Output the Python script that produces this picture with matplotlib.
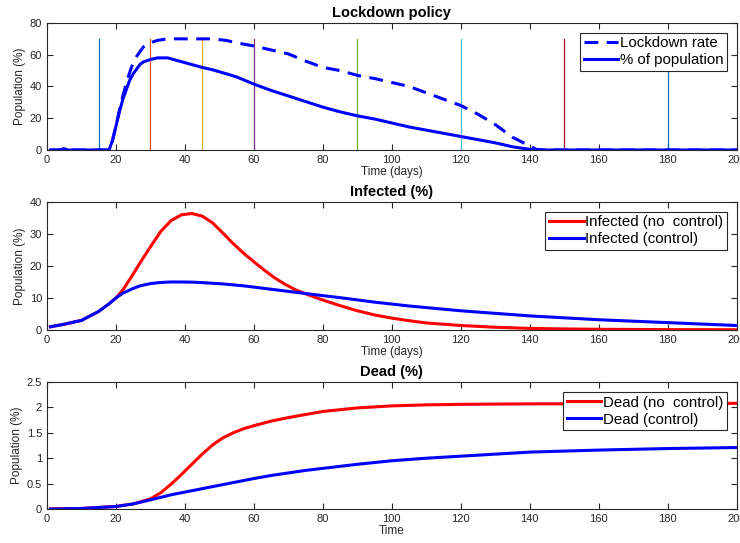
import matplotlib.pyplot as plt

plt.rcParams['font.family'] = ['Liberation Sans', 'DejaVu Sans']

# lockdown policy (top panel)
days_lock = [1, 4, 5, 6, 10, 15, 18, 19, 20, 21, 22, 23, 24, 25, 26, 27, 28, 30, 32, 35, 40, 45, 48,
             52, 55, 60, 65, 70, 75, 80, 85, 90, 95, 100, 105, 110, 115, 120, 125, 130, 135,
             140, 142, 145, 150, 160, 170, 180, 190, 200]
lock_rate = [0, 0, 0.8, 0, 0, 0, 0, 6, 15, 25, 34, 42, 49, 55, 59, 62, 65, 67.5, 69, 70, 70, 70, 70,
             69, 67.5, 65.5, 63, 60.5, 56, 52, 50, 47, 45, 42.5, 40, 36, 32, 28, 22.5, 16, 8,
             2.5, 0.3, 0, 0, 0, 0, 0, 0, 0]
lock_pop = [0, 0, 0.8, 0, 0, 0, 0, 6, 15, 24, 32, 38, 44, 48, 51, 54, 55.5, 57, 58, 58, 55, 52, 50.5,
            48, 46, 41.5, 37.5, 34, 30.5, 27, 24, 21.5, 19.5, 17, 14.5, 12.5, 10.5, 8.5, 6.5, 4.5, 2,
            0.4, 0, 0, 0, 0, 0, 0, 0, 0]
change_days = [15, 30, 45, 60, 90, 120, 150, 180]
change_colors = ['#0072BD', '#D95319', '#EDB120', '#7E2F8E', '#77AC30', '#4DBEEE', '#A2142F', '#0072BD']

# infected (middle panel)
days_inf = [1, 5, 10, 15, 18, 20, 22, 25, 27, 30, 33, 36, 39, 42, 45, 48, 51, 54, 57, 60, 63, 66,
            69, 72, 75, 78, 81, 85, 90, 95, 100, 105, 110, 120, 130, 140, 150, 160, 180, 200]
inf_nc = [1, 1.8, 3, 5.8, 8.2, 10, 12.5, 17.5, 21, 26, 30.8, 34.2, 36, 36.4, 35.6, 33.5, 30.3, 27, 24,
          21.3, 18.7, 16.3, 14.3, 12.6, 11.3, 10.1, 9, 7.6, 6, 4.7, 3.7, 2.9, 2.2, 1.4, 0.85, 0.5,
          0.32, 0.22, 0.12, 0.08]
inf_c = [1, 1.8, 3, 5.8, 8.2, 10, 11.5, 13, 13.8, 14.5, 14.85, 15, 15, 14.95, 14.8, 14.6, 14.4, 14.1,
         13.8, 13.4, 13, 12.6, 12.2, 11.8, 11.4, 11, 10.6, 10.1, 9.4, 8.7, 8.1, 7.5, 7, 6, 5.2, 4.4,
         3.8, 3.2, 2.3, 1.4]

# dead (bottom panel)
days_dead = [1, 10, 20, 25, 30, 33, 36, 39, 42, 45, 48, 51, 54, 57, 60, 65, 70, 75, 80, 90, 100,
             110, 120, 140, 160, 180, 200]
dead_nc = [0, 0.01, 0.05, 0.1, 0.2, 0.32, 0.49, 0.68, 0.88, 1.08, 1.26, 1.4, 1.5, 1.58, 1.64, 1.73,
           1.8, 1.86, 1.92, 1.99, 2.03, 2.05, 2.06, 2.07, 2.07, 2.08, 2.08]
dead_c = [0, 0.01, 0.05, 0.1, 0.18, 0.23, 0.28, 0.32, 0.36, 0.4, 0.44, 0.48, 0.52, 0.56, 0.6, 0.66,
          0.71, 0.76, 0.8, 0.88, 0.95, 1.0, 1.04, 1.12, 1.16, 1.19, 1.21]

fig = plt.figure(figsize=(7.4, 5.43), dpi=100)
ax1 = fig.add_axes([0.0635, 0.7238, 0.932, 0.2339])
ax2 = fig.add_axes([0.0635, 0.3923, 0.932, 0.2357])
ax3 = fig.add_axes([0.0635, 0.0626, 0.932, 0.2339])

for d, c in zip(change_days, change_colors):
    ax1.plot([d, d], [0, 70], color=c, lw=0.9)
ax1.plot(days_lock, lock_rate, '--', color='blue', lw=2.2, dashes=(4.5, 2.8), label='Lockdown rate')
ax1.plot(days_lock, lock_pop, '-', color='blue', lw=2.2, label='% of population')
ax1.set_ylim(0, 80)
ax1.set_yticks([0, 20, 40, 60, 80])
ax1.set_title('Lockdown policy', fontweight='bold', fontsize=10.5, pad=4)
ax1.set_xlabel('Time (days)', labelpad=1)

ax2.plot(days_inf, inf_nc, color='red', lw=2.2, label='Infected (no  control)')
ax2.plot(days_inf, inf_c, color='blue', lw=2.2, label='Infected (control)')
ax2.set_ylim(0, 40)
ax2.set_yticks([0, 10, 20, 30, 40])
ax2.set_title('Infected (%)', fontweight='bold', fontsize=10.5, pad=4)
ax2.set_xlabel('Time (days)', labelpad=1)

ax3.plot(days_dead, dead_nc, color='red', lw=2.2, label='Dead (no  control)')
ax3.plot(days_dead, dead_c, color='blue', lw=2.2, label='Dead (control)')
ax3.set_ylim(0, 2.5)
ax3.set_yticks([0, 0.5, 1, 1.5, 2, 2.5])
ax3.set_yticklabels(['0', '0.5', '1', '1.5', '2', '2.5'])
ax3.set_title('Dead (%)', fontweight='bold', fontsize=10.5, pad=4)
ax3.set_xlabel('Time', labelpad=1)

for ax in (ax1, ax2, ax3):
    ax.set_xlim(0, 200)
    ax.set_xticks(range(0, 201, 20))
    ax.set_ylabel('Population (%)', fontsize=8.5, color='#262626', labelpad=3)
    ax.xaxis.label.set_size(8.5)
    ax.xaxis.label.set_color('#262626')
    ax.tick_params(direction='in', top=True, right=True, labelsize=8, colors='#262626', length=4, width=0.8)
    for s in ax.spines.values():
        s.set_color('#262626')
        s.set_linewidth(0.8)
    leg = ax.legend(loc='upper right', fontsize=10.8, fancybox=False, framealpha=1, edgecolor='#262626',
                    handlelength=2.3, handletextpad=0.1, borderpad=0.25, labelspacing=0.2,
                    borderaxespad=0.65)
    leg.get_frame().set_linewidth(0.8)

plt.savefig('out.png')
